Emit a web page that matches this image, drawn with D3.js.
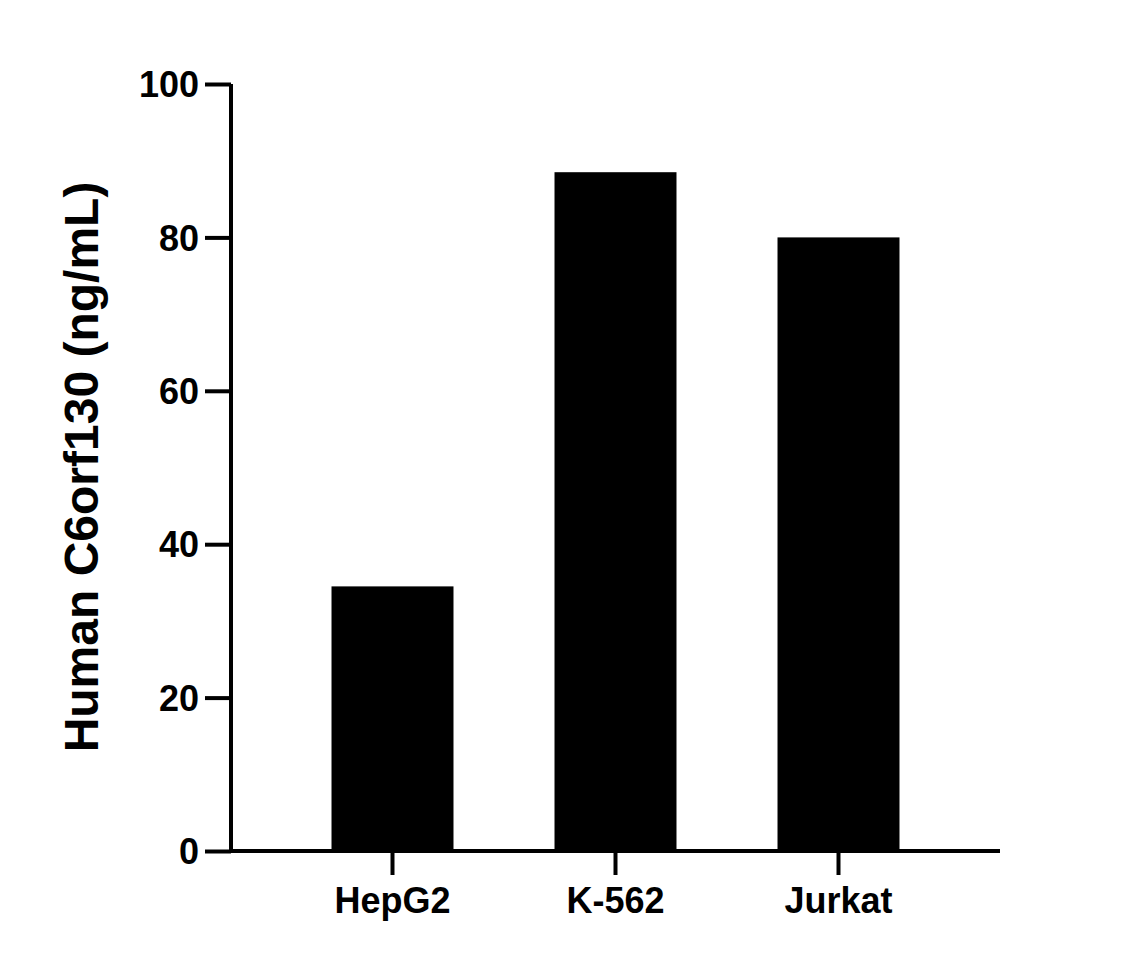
<!DOCTYPE html>
<html><head><meta charset="utf-8">
<script src="https://cdn.jsdelivr.net/npm/d3@7"></script>
<style>body{margin:0;background:#fff}</style></head>
<body><svg id="c" width="1137" height="968"></svg>
<script>
const categories = ["HepG2","K-562","Jurkat"];
const values = [34.5, 88.5, 80];
const yTicks = [0,20,40,60,80,100];

const svg = d3.select("#c");
const font = "'Liberation Sans', Arial, sans-serif";
const y = d3.scaleLinear().domain([0,100]).range([851,84]);
const x = d3.scaleBand().domain(categories).range([281,950]).paddingInner(0.453).paddingOuter(0.2265);

svg.selectAll("rect.bar").data(values).join("rect")
  .attr("x",(d,i)=>x(categories[i])).attr("width",x.bandwidth())
  .attr("y",d=>y(d)).attr("height",d=>y(0)-y(d)).attr("fill","#000");

const ya = svg.append("g").attr("transform","translate(231,0)")
  .call(d3.axisLeft(y).tickValues(yTicks).tickSize(26).tickPadding(6).tickSizeOuter(0));
const xa = svg.append("g").attr("transform","translate(0,851)")
  .call(d3.axisBottom(x).tickSize(24).tickPadding(12).tickSizeOuter(0));
xa.select(".domain").attr("d","M231,0H1000");
ya.select(".domain").attr("d","M0,851V84");
[ya,xa].forEach(g=>{
  g.selectAll("path,line").attr("stroke","#000").attr("stroke-width",4);
  g.selectAll("text").attr("fill","#000").style("font-family",font).style("font-weight","bold").style("font-size","36px");
});
ya.selectAll("text").attr("dy","0.35em");
svg.append("text").attr("transform","translate(98,467) rotate(-90)")
  .attr("text-anchor","middle").style("font-family",font).style("font-weight","bold").style("font-size","48px")
  .text("Human C6orf130 (ng/mL)");
</script></body></html>
